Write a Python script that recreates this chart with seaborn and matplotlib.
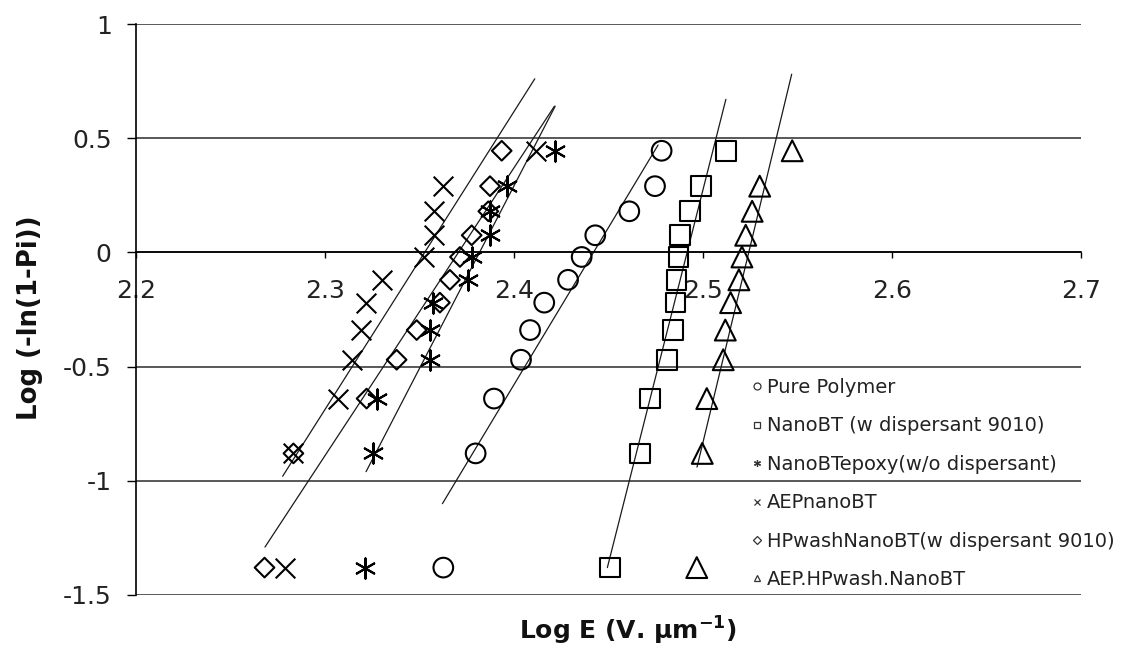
import numpy as np
import pandas as pd
import matplotlib
matplotlib.use("Agg")
import matplotlib.pyplot as plt
import seaborn as sns
from matplotlib.lines import Line2D

# ---- data ----
log_p = [-1.38, -0.88, -0.64, -0.47, -0.34, -0.22, -0.12, -0.02, 0.075, 0.18, 0.29, 0.445]

pure_polymer = [2.3626, 2.3797, 2.3894, 2.4037, 2.4085, 2.4160, 2.4286, 2.4358, 2.4430, 2.4610, 2.4746, 2.4781]
nanobt_disp = [2.4508, 2.4667, 2.4720, 2.4810, 2.4840, 2.4855, 2.4860, 2.4870, 2.4880, 2.4930, 2.4990, 2.5120]
nanobt_epoxy = [2.3212, 2.3256, 2.3273, 2.3556, 2.3556, 2.3573, 2.3759, 2.3776, 2.3873, 2.3873, 2.3961, 2.4217]
aep_nanobt = [2.2788, 2.2833, 2.3070, 2.3141, 2.3190, 2.3219, 2.3303, 2.3524, 2.3578, 2.3578, 2.3626, 2.4116]
hpwash_nanobt = [2.2680, 2.2833, 2.3220, 2.3379, 2.3485, 2.3608, 2.3661, 2.3714, 2.3776, 2.3864, 2.3873, 2.3935]
aep_hpwash = [2.4967, 2.4996, 2.5020, 2.5107, 2.5118, 2.5146, 2.5190, 2.5206, 2.5226, 2.5260, 2.5300, 2.5472]

series_names = ["Pure Polymer", "NanoBT (w dispersant 9010)", "NanoBTepoxy(w/o dispersant)",
                "AEPnanoBT", "HPwashNanoBT(w dispersant 9010)", "AEP.HPwash.NanoBT"]
series_values = [pure_polymer, nanobt_disp, nanobt_epoxy, aep_nanobt, hpwash_nanobt, aep_hpwash]

x_ticks = [2.2, 2.3, 2.4, 2.5, 2.6, 2.7]
y_ticks = [-1.5, -1, -0.5, 0, 0.5, 1]

# ---- styles ----
markers = {"Pure Polymer": "o", "NanoBT (w dispersant 9010)": "s",
           "NanoBTepoxy(w/o dispersant)": (6, 2, 0), "AEPnanoBT": "x",
           "HPwashNanoBT(w dispersant 9010)": "D", "AEP.HPwash.NanoBT": "^"}
msize = {"Pure Polymer": 200, "NanoBT (w dispersant 9010)": 200,
         "NanoBTepoxy(w/o dispersant)": 210, "AEPnanoBT": 200,
         "HPwashNanoBT(w dispersant 9010)": 100, "AEP.HPwash.NanoBT": 225}
# vertical extent (in y units) over which each trendline is drawn
trend_span = {"Pure Polymer": (-1.10, 0.47), "NanoBT (w dispersant 9010)": (-1.38, 0.67),
              "NanoBTepoxy(w/o dispersant)": (-0.96, 0.64), "AEPnanoBT": (-0.98, 0.76),
              "HPwashNanoBT(w dispersant 9010)": (-1.29, 0.64), "AEP.HPwash.NanoBT": (-0.94, 0.78)}

df = pd.concat([pd.DataFrame({"LogE": v, "LogP": log_p, "series": n})
                for n, v in zip(series_names, series_values)], ignore_index=True)

sns.set_theme(style="ticks")
plt.rcParams["font.family"] = ["DejaVu Sans"]

W, H = 1126, 655
fig = plt.figure(figsize=(W / 100, H / 100), dpi=100)
ax = fig.add_axes([136 / W, 1 - 595 / H, 945 / W, 571 / H])

# trend lines (least squares fits)
for n in series_names:
    sub = df[df["series"] == n]
    m, b = np.polyfit(sub["LogE"], sub["LogP"], 1)
    ys = np.array(trend_span[n])
    xs = (ys - b) / m
    ax.plot(xs, ys, color="#1a1a1a", lw=0.9, zorder=2)

for n in series_names:
    sub = df[df["series"] == n]
    mk = markers[n]
    filled = mk in ("o", "s", "D", "^")
    sns.scatterplot(data=sub, x="LogE", y="LogP", marker=mk, s=msize[n],
                    facecolor="none" if filled else "black",
                    edgecolor="black", linewidth=1.5, ax=ax, zorder=3, legend=False)

ax.set_xlim(2.2, 2.7)
ax.set_ylim(-1.5, 1)
ax.set_xticks(x_ticks)
ax.set_xticklabels([f"{t:g}" for t in x_ticks])
ax.set_yticks(y_ticks)
ax.set_yticklabels([f"{t:g}" for t in y_ticks])

ax.yaxis.grid(True, color="#3c3c3c", lw=1.2)
ax.set_axisbelow(True)
for s in ("top", "right"):
    ax.spines[s].set_visible(False)
ax.spines["bottom"].set_position(("data", 0))
ax.spines["bottom"].set_color("black")
ax.spines["bottom"].set_linewidth(1.2)
ax.spines["left"].set_color("black")
ax.spines["left"].set_linewidth(1.2)

ax.tick_params(axis="y", direction="out", length=6.5, width=1, pad=11,
               labelsize=18, labelcolor="#222222", color="black")
ax.tick_params(axis="x", direction="out", length=4, width=1, pad=15,
               labelsize=18, labelcolor="#222222", color="black")

ax.set_xlabel("Log E (V. μm$^{\\mathbf{-1}}$)", fontsize=18, fontweight="bold", color="#111111")
ax.xaxis.set_label_coords((628 - 136) / 945, -0.035)
ax.set_ylabel("Log (-ln(1-Pi))", fontsize=18.7, fontweight="bold", color="#111111")
ax.yaxis.set_label_coords((43 - 136) / 945, (595 - 318) / 571)

handles = []
for n in series_names:
    mk = markers[n]
    filled = mk in ("o", "s", "D", "^")
    ms = 5.0 if mk != "D" else 3.8
    handles.append(Line2D([], [], linestyle="none", marker=mk, markersize=ms,
                          markerfacecolor="none" if filled else "#333333",
                          markeredgecolor="#333333", markeredgewidth=0.9, label=n))
leg = ax.legend(handles=handles, loc="upper left", bbox_to_anchor=(752.6 / W, (H - 378.0) / H),
                bbox_transform=fig.transFigure, frameon=False, fontsize=14,
                handlelength=0.45, handletextpad=0.28, labelspacing=1.0, borderpad=0,
                borderaxespad=0)
for t in leg.get_texts():
    t.set_color("#222222")

fig.savefig("out.png", dpi=100)
